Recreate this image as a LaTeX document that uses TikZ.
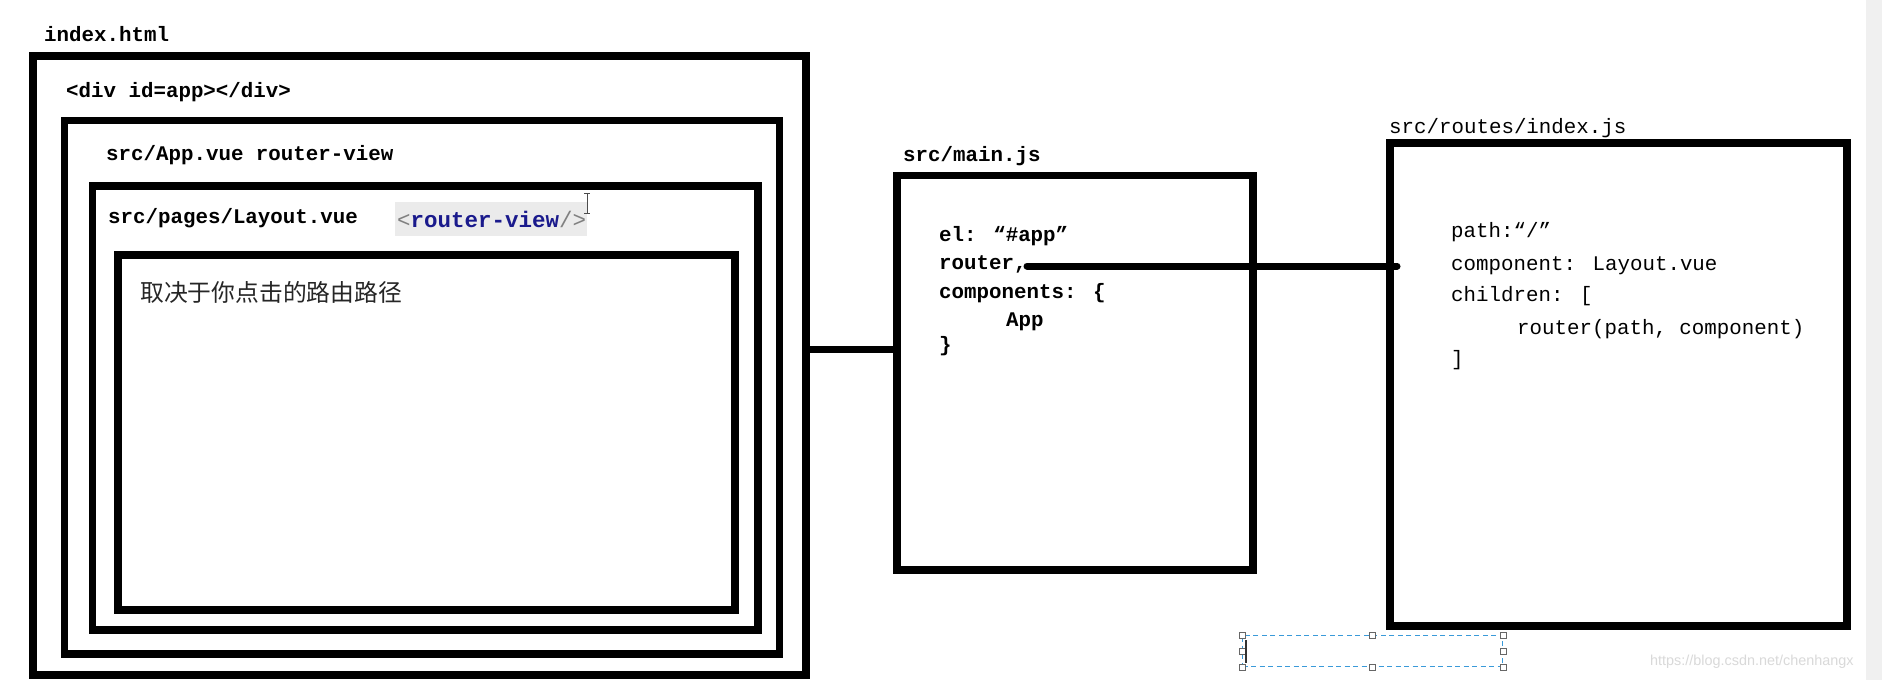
\documentclass[tikz,border=0pt]{standalone}
\usepackage{fontspec}
\newfontfamily\codefont{Liberation Mono}
\newfontfamily\cjkfont{Noto Sans CJK SC}
\newfontfamily\wmfont{Liberation Sans}
\definecolor{rvblue}{HTML}{1A1A8C}
\definecolor{selblue}{HTML}{3A9AD9}
\begin{document}
\begin{tikzpicture}[x=1pt,y=-1pt,
 box/.style={draw=black, line width=7.5pt, inner sep=0pt, outer sep=0pt, anchor=north west},
 conn/.style={draw=black, line width=7pt},
 cb/.style={anchor=base west, inner sep=0pt, font=\codefont\bfseries\fontsize{20.8}{25}\selectfont},
 cr/.style={anchor=base west, inner sep=0pt, font=\codefont\fontsize{20.8}{25}\selectfont},
 handle/.style={draw=black!60, fill=white, line width=0.9pt, minimum size=6pt, inner sep=0pt},
]
\fill[white] (0,0) rectangle (1882,680);
\useasboundingbox (0,0) rectangle (1882,680);
\fill[black!6] (1866,0) rectangle (1882,680);

% left nested boxes
\node[box, minimum width=773pt, minimum height=619pt] (A) at (33,56) {};
\node[box, minimum width=715pt, minimum height=533.5pt] (B) at (64.5,120.5) {};
\node[box, minimum width=665.5pt, minimum height=444pt] (C) at (92.5,186) {};
\node[box, minimum width=617pt, minimum height=355pt] (D) at (118,255) {};

\node[cb] (tA) at (44,41) {index.html};
\node[cb] (tA2) at (66,97) {<div id=app></div>};
\node[cb] (tB) at (106,160) {src/App.vue router-view};
\node[cb] (tC) at (108,223) {src/pages/Layout.vue};
\node[fill=black!8, anchor=north west, minimum width=192pt, minimum height=34pt, inner sep=0pt] (hl) at (395,202) {};
\node[anchor=base west, inner sep=0pt, font=\codefont\bfseries\fontsize{22.5}{26}\selectfont] (rv) at (397,227)
  {\textcolor{black!50}{\mdseries<}\textcolor{rvblue}{router-view}\textcolor{black!50}{\mdseries/>}};
\draw[line width=1pt, black!70] (587,193) -- (587,213) (584,193) -- (590,193) (584,213) -- (590,213);
\node[anchor=west, inner sep=0pt, font=\cjkfont\fontsize{23.8}{28}\selectfont, text=black!85] (cn) at (140,292) {取决于你点击的路由路径};

% main.js
\node[box, minimum width=356pt, minimum height=394.5pt] (E) at (897,175.5) {};
\node[cb] (tE) at (903,161) {src/main.js};
\node[cb] (e1) at (939,241.7) {el: “\#app”};
\node[cb] (e2) at (939,269.5) {router,};
\node[cb] (e3) at (939,298) {components: \{};
\node[cb] (e4) at (1006,326.7) {App};
\node[cb] (e5) at (939,351) {\}};

% routes/index.js
\node[box, minimum width=457pt, minimum height=483pt] (F) at (1390,143) {};
\node[cr] (tF) at (1389,133) {src/routes/index.js};
\node[cr] (f1) at (1451,237) {path:“/”};
\node[cr] (f2) at (1451,270.7) {component: Layout.vue};
\node[cr] (f3) at (1451,301.5) {children: [};
\node[cr] (f4) at (1517,334) {router(path, component)};
\node[cr] (f5) at (1451,365) {]};

% connectors
\coordinate (ae) at (0,349);
\draw[conn] (A.east |- ae) -- (E.west |- ae);
\coordinate (rt) at (1027,266);
\draw[conn, line cap=round] (rt) -- ([xshift=7pt]F.west |- rt);

% selection rectangle
\node[draw=selblue, dash pattern=on 5pt off 3.5pt, line width=1.3pt, anchor=north west, minimum width=260pt, minimum height=31pt, inner sep=0pt] (sel) at (1242,635) {};
\foreach \a [count=\i] in {north west, north, north east, west, east, south west, south, south east}
  \node[handle] (h\i) at (sel.\a) {};
\draw[line width=1.3pt, black!80] (1246,640) -- (1246,663);

\node[anchor=west, inner sep=0pt, font=\wmfont\fontsize{14.4}{18}\selectfont, text=black!15] (wm) at (1650,662) {https://blog.csdn.net/chenhangx};
\end{tikzpicture}
\end{document}
